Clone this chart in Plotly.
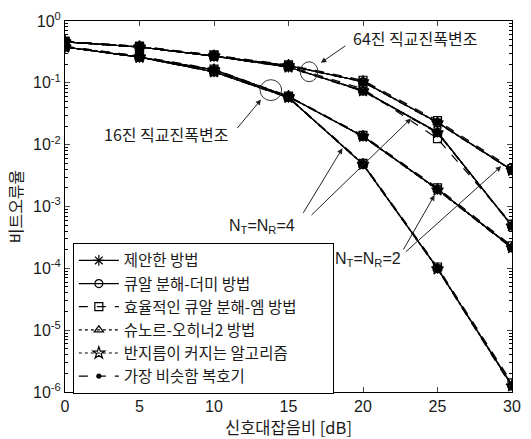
import plotly.graph_objects as go

# ---------------- data ----------------
snr_db = [0, 5, 10, 15, 20, 25, 30]

method_names = ["제안한 방법", "큐알 분해-더미 방법", "효율적인 큐알 분해-엠 방법",
                "슈노르-오히너2 방법", "반지름이 커지는 알고리즘", "가장 비슷함 복호기"]

# 16-QAM, NT=NR=2
q16_n2_prop = [0.38, 0.26, 0.163, 0.060, 0.0137, 1.90e-3, 2.20e-4]
q16_n2_qrd  = [0.38, 0.26, 0.162, 0.060, 0.0136, 1.90e-3, 2.15e-4]
q16_n2_qrm  = [0.39, 0.27, 0.166, 0.061, 0.0141, 2.00e-3, 2.30e-4]
q16_n2_sch  = [0.38, 0.26, 0.163, 0.060, 0.0137, 1.90e-3, 2.20e-4]
q16_n2_sd   = [0.38, 0.26, 0.162, 0.060, 0.0136, 1.85e-3, 2.15e-4]
q16_n2_ml   = [0.38, 0.26, 0.162, 0.059, 0.0135, 1.85e-3, 2.10e-4]

# 16-QAM, NT=NR=4
q16_n4_prop = [0.38, 0.26, 0.151, 0.058, 4.85e-3, 1.00e-4, 1.30e-6]
q16_n4_qrd  = [0.38, 0.26, 0.150, 0.058, 4.80e-3, 1.00e-4, 1.25e-6]
q16_n4_qrm  = [0.39, 0.27, 0.154, 0.059, 5.00e-3, 1.05e-4, 1.40e-6]
q16_n4_sch  = [0.38, 0.26, 0.151, 0.058, 4.85e-3, 1.00e-4, 1.30e-6]
q16_n4_sd   = [0.38, 0.26, 0.150, 0.058, 4.80e-3, 0.98e-4, 1.25e-6]
q16_n4_ml   = [0.38, 0.26, 0.150, 0.057, 4.75e-3, 0.97e-4, 1.20e-6]

# 64-QAM, NT=NR=2
q64_n2_prop = [0.46, 0.38, 0.27, 0.19, 0.105, 0.0230, 3.90e-3]
q64_n2_qrd  = [0.46, 0.38, 0.27, 0.19, 0.104, 0.0228, 3.85e-3]
q64_n2_qrm  = [0.47, 0.39, 0.28, 0.195, 0.110, 0.0245, 4.10e-3]
q64_n2_sch  = [0.46, 0.38, 0.27, 0.19, 0.105, 0.0230, 3.90e-3]
q64_n2_sd   = [0.46, 0.38, 0.27, 0.19, 0.104, 0.0226, 3.85e-3]
q64_n2_ml   = [0.46, 0.38, 0.27, 0.188, 0.103, 0.0225, 3.80e-3]

# 64-QAM, NT=NR=4
q64_n4_prop = [0.46, 0.38, 0.27, 0.180, 0.075, 0.0160, 4.90e-4]
q64_n4_qrd  = [0.46, 0.38, 0.27, 0.180, 0.074, 0.0158, 4.85e-4]
q64_n4_qrm  = [0.47, 0.39, 0.28, 0.186, 0.080, 0.0125, 5.20e-4]
q64_n4_sch  = [0.46, 0.38, 0.27, 0.180, 0.075, 0.0160, 4.90e-4]
q64_n4_sd   = [0.46, 0.38, 0.27, 0.180, 0.074, 0.0156, 4.85e-4]
q64_n4_ml   = [0.46, 0.38, 0.27, 0.178, 0.073, 0.0155, 4.80e-4]

y_tick_vals = [1e-6, 1e-5, 1e-4, 1e-3, 1e-2, 1e-1, 1]
y_tick_text = ["10<sup>-6</sup>", "10<sup>-5</sup>", "10<sup>-4</sup>", "10<sup>-3</sup>",
               "10<sup>-2</sup>", "10<sup>-1</sup>", "10<sup>0</sup>"]
x_tick_vals = [0, 5, 10, 15, 20, 25, 30]

# ---------------- styles ----------------
styles = [
    dict(dash="solid", symbol="asterisk-open", size=9),
    dict(dash="solid", symbol="circle-open", size=8),
    dict(dash="dash", symbol="square-open", size=8),
    dict(dash="dot", symbol="triangle-up-open", size=8),
    dict(dash="dot", symbol="star-open", size=9),
    dict(dash="dash", symbol="circle", size=4),
]

groups = [
    [q16_n2_prop, q16_n2_qrd, q16_n2_qrm, q16_n2_sch, q16_n2_sd, q16_n2_ml],
    [q16_n4_prop, q16_n4_qrd, q16_n4_qrm, q16_n4_sch, q16_n4_sd, q16_n4_ml],
    [q64_n2_prop, q64_n2_qrd, q64_n2_qrm, q64_n2_sch, q64_n2_sd, q64_n2_ml],
    [q64_n4_prop, q64_n4_qrd, q64_n4_qrm, q64_n4_sch, q64_n4_sd, q64_n4_ml],
]

FONT = "Liberation Sans, Arial, Noto Sans CJK KR"
KFONT = "Noto Sans CJK KR, Liberation Sans"
TXT = "#1a1a1a"

fig = go.Figure()
for gi, group in enumerate(groups):
    for mi, vals in enumerate(group):
        st = styles[mi]
        label = method_names[mi] + ("\u00a0" * 9 if mi == 2 else "")
        fig.add_trace(go.Scatter(
            x=snr_db, y=vals, mode="lines+markers",
            name=label,
            showlegend=(gi == 0),
            legendrank=mi + 1,
            line=dict(color="black", width=1.2, dash=st["dash"]),
            marker=dict(symbol=st["symbol"], size=st["size"], color="black",
                        line=dict(color="black", width=1.2)),
        ))

# ---------------- layout geometry (pixels) ----------------
W, H = 531, 439
L, R, T, B = 65, 10, 19, 47
PW, PH = W - L - R, H - T - B


def px(xp):
    return (xp - L) / PW


def py(yp):
    return (H - B - yp) / PH


annotations = []
labels = [
    ("64진 직교진폭변조", 422, 36, KFONT, 16),
    ("16진 직교진폭변조", 168, 133, KFONT, 16),
    ("N<sub>T</sub>=N<sub>R</sub>=4", 266, 226, FONT, 16),
    ("N<sub>T</sub>=N<sub>R</sub>=2", 374, 259, FONT, 16),
]
for text, lx, ly, fam, fs in labels:
    annotations.append(dict(xref="paper", yref="paper", x=px(lx), y=py(ly), text=text,
                            xanchor="center", yanchor="middle", showarrow=False,
                            font=dict(family=fam, size=fs, color=TXT)))

# arrows: (head_x, head_y, tail_x, tail_y) in pixels
arrows = [
    (326, 61, 352, 43),
    (265, 98, 240, 128),
    (348, 147, 308, 213),
    (418, 117, 317, 215),
    (442, 194, 410, 250),
    (510, 165, 413, 252),
]
for hx, hy, tx, ty in arrows:
    annotations.append(dict(xref="paper", yref="paper", x=px(hx), y=py(hy), text="",
                            showarrow=True, arrowhead=2, arrowsize=1.1, arrowwidth=1,
                            arrowcolor="#222", ax=tx - hx, ay=ty - hy, standoff=0))

shapes = [
    dict(type="circle", xref="paper", yref="paper",
         x0=px(305), x1=px(323), y0=py(60), y1=py(80), line=dict(color="#333", width=1)),
    dict(type="circle", xref="paper", yref="paper",
         x0=px(264), x1=px(286), y0=py(78), y1=py(99), line=dict(color="#333", width=1)),
]

minor_vals = [m * 10.0 ** e for e in range(-6, 0) for m in range(2, 10)]

fig.update_layout(
    width=W, height=H,
    margin=dict(l=L, r=R, t=T, b=B),
    paper_bgcolor="white", plot_bgcolor="white",
    font=dict(family=FONT, size=16, color=TXT),
    showlegend=True,
    legend=dict(
        x=px(73), y=py(242), xanchor="left", yanchor="top",
        bgcolor="white", bordercolor="black", borderwidth=1,
        font=dict(family=KFONT, size=15.5, color=TXT),
        tracegroupgap=0, itemwidth=40,
    ),
    xaxis=dict(
        range=[0, 30], tickvals=x_tick_vals, ticks="inside", ticklen=5,
        showline=True, linecolor="black", linewidth=1, mirror="ticks",
        showgrid=False, zeroline=False,
        tickfont=dict(family=FONT, size=16, color=TXT),
        title=dict(text="신호대잡음비 [dB]", font=dict(family=KFONT, size=16.5, color=TXT),
                   standoff=2),
    ),
    yaxis=dict(
        type="log", range=[-6, 0], tickvals=y_tick_vals, ticktext=y_tick_text,
        ticks="inside", ticklen=5,
        showline=True, linecolor="black", linewidth=1, mirror="ticks",
        showgrid=False, zeroline=False,
        tickfont=dict(family=FONT, size=16, color=TXT),
        minor=dict(tickvals=minor_vals, ticks="inside", ticklen=3, tickcolor="black", showgrid=False),
        title=dict(text="비트오류율", font=dict(family=KFONT, size=16, color=TXT), standoff=6),
    ),
    annotations=annotations,
    shapes=shapes,
)

fig.write_html("out.html")
